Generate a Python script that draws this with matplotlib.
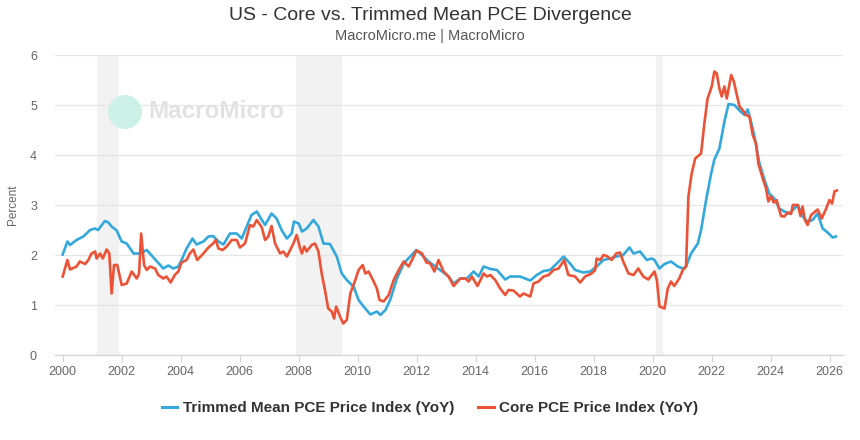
import matplotlib
matplotlib.use("Agg")
import matplotlib.pyplot as plt
from matplotlib.patches import Circle

# ---- data (decimal years, percent) ----
trim_t = [2000.0, 2000.16, 2000.25, 2000.47, 2000.7, 2000.93, 2001.1, 2001.2, 2001.43, 2001.55,
          2001.66, 2001.83, 2002.0, 2002.17, 2002.4, 2002.62, 2002.85, 2003.0, 2003.19, 2003.41,
          2003.58, 2003.75, 2003.92, 2004.03, 2004.2, 2004.4, 2004.54, 2004.77, 2004.94, 2005.1,
          2005.28, 2005.45, 2005.67, 2005.9, 2006.07, 2006.24, 2006.4, 2006.58, 2006.75, 2006.86,
          2007.08, 2007.25, 2007.42, 2007.6, 2007.76, 2007.84, 2008.0, 2008.11, 2008.27, 2008.5,
          2008.67, 2008.84, 2009.06, 2009.29, 2009.46, 2009.63, 2009.8, 2009.86, 2010.03, 2010.2,
          2010.43, 2010.65, 2010.77, 2010.94, 2011.1, 2011.33, 2011.56, 2011.78, 2011.99, 2012.18,
          2012.4, 2012.63, 2012.86, 2013.08, 2013.25, 2013.48, 2013.7, 2013.93, 2014.1, 2014.27,
          2014.5, 2014.72, 2015.0, 2015.17, 2015.5, 2015.85, 2016.07, 2016.3, 2016.52, 2016.75,
          2016.98, 2017.2, 2017.37, 2017.65, 2017.88, 2018.1, 2018.33, 2018.56, 2018.78, 2019.0,
          2019.21, 2019.35, 2019.57, 2019.8, 2019.97, 2020.06, 2020.23, 2020.4, 2020.62, 2020.85,
          2021.02, 2021.13, 2021.3, 2021.53, 2021.64, 2021.81, 2021.98, 2022.09, 2022.26, 2022.43,
          2022.57, 2022.77, 2022.94, 2023.11, 2023.22, 2023.33, 2023.45, 2023.62, 2023.79, 2023.95,
          2024.12, 2024.29, 2024.46, 2024.63, 2024.92, 2025.08, 2025.25, 2025.42, 2025.59, 2025.76,
          2025.93, 2026.1, 2026.21]
trim_v = [2.01, 2.27, 2.2, 2.3, 2.37, 2.5, 2.53, 2.5, 2.68, 2.65,
          2.57, 2.49, 2.27, 2.23, 2.03, 2.03, 2.1, 2.0, 1.87, 1.73,
          1.79, 1.73, 1.77, 1.9, 2.13, 2.33, 2.21, 2.27, 2.37, 2.38,
          2.27, 2.21, 2.43, 2.43, 2.33, 2.57, 2.8, 2.87, 2.7, 2.6,
          2.83, 2.73, 2.5, 2.33, 2.43, 2.67, 2.63, 2.47, 2.53, 2.7,
          2.57, 2.23, 2.22, 1.97, 1.63, 1.5, 1.4, 1.37, 1.1, 0.97,
          0.81, 0.87, 0.8, 0.9, 1.1, 1.53, 1.83, 1.97, 2.1, 2.0,
          1.87, 1.77, 1.67, 1.57, 1.43, 1.53, 1.53, 1.67, 1.57, 1.77,
          1.72, 1.7, 1.51, 1.57, 1.57, 1.49, 1.6, 1.68, 1.7, 1.83,
          1.97, 1.83, 1.7, 1.65, 1.67, 1.77, 1.9, 1.93, 1.97, 2.0,
          2.15, 2.03, 2.07, 1.9, 1.93, 1.9, 1.73, 1.82, 1.87, 1.77,
          1.73, 1.77, 2.03, 2.23, 2.5, 3.1, 3.63, 3.91, 4.13, 4.67,
          5.02, 5.0, 4.89, 4.8, 4.91, 4.67, 4.37, 3.83, 3.5, 3.23,
          3.13, 2.93, 2.87, 2.83, 3.0, 2.77, 2.67, 2.7, 2.83, 2.53,
          2.45, 2.35, 2.37]

core_t = [2000.0, 2000.16, 2000.25, 2000.47, 2000.58, 2000.76, 2000.87, 2000.98, 2001.1, 2001.15,
          2001.27, 2001.36, 2001.49, 2001.58, 2001.66, 2001.74, 2001.85, 2002.0, 2002.17, 2002.34,
          2002.51, 2002.59, 2002.66, 2002.76, 2002.85, 2002.96, 2003.13, 2003.24, 2003.41, 2003.52,
          2003.66, 2003.8, 2003.92, 2004.03, 2004.2, 2004.31, 2004.43, 2004.56, 2004.77, 2004.94,
          2005.1, 2005.19, 2005.28, 2005.42, 2005.56, 2005.73, 2005.9, 2006.01, 2006.18, 2006.35,
          2006.46, 2006.58, 2006.75, 2006.86, 2006.97, 2007.08, 2007.2, 2007.37, 2007.48, 2007.6,
          2007.82, 2007.93, 2008.05, 2008.11, 2008.19, 2008.27, 2008.44, 2008.55, 2008.67, 2008.78,
          2008.89, 2009.0, 2009.12, 2009.2, 2009.27, 2009.4, 2009.51, 2009.63, 2009.75, 2009.92,
          2010.03, 2010.17, 2010.26, 2010.37, 2010.54, 2010.65, 2010.74, 2010.88, 2011.05, 2011.22,
          2011.39, 2011.56, 2011.73, 2011.84, 2011.99, 2012.18, 2012.33, 2012.46, 2012.6, 2012.74,
          2012.91, 2013.08, 2013.25, 2013.48, 2013.65, 2013.76, 2013.87, 2014.06, 2014.27, 2014.38,
          2014.5, 2014.66, 2014.83, 2015.0, 2015.11, 2015.28, 2015.5, 2015.62, 2015.85, 2015.96,
          2016.13, 2016.3, 2016.47, 2016.64, 2016.81, 2017.0, 2017.14, 2017.37, 2017.54, 2017.71,
          2017.93, 2018.05, 2018.1, 2018.22, 2018.33, 2018.44, 2018.61, 2018.76, 2018.89, 2019.0,
          2019.18, 2019.35, 2019.51, 2019.68, 2019.85, 2020.06, 2020.14, 2020.23, 2020.4, 2020.51,
          2020.62, 2020.73, 2020.9, 2021.02, 2021.13, 2021.21, 2021.32, 2021.44, 2021.64, 2021.75,
          2021.86, 2022.0, 2022.09, 2022.17, 2022.26, 2022.34, 2022.43, 2022.51, 2022.66, 2022.75,
          2022.94, 2023.05, 2023.16, 2023.28, 2023.39, 2023.5, 2023.58, 2023.73, 2023.84, 2023.92,
          2024.01, 2024.1, 2024.2, 2024.35, 2024.46, 2024.58, 2024.69, 2024.75, 2024.92, 2025.01,
          2025.08, 2025.16, 2025.25, 2025.37, 2025.59, 2025.73, 2025.88, 2025.99, 2026.08, 2026.16,
          2026.24]
core_v = [1.57, 1.9, 1.71, 1.77, 1.87, 1.82, 1.9, 2.03, 2.07, 1.93,
          2.03, 1.93, 2.11, 2.03, 1.23, 1.8, 1.8, 1.4, 1.43, 1.67,
          1.53, 1.63, 2.43, 1.8, 1.7, 1.77, 1.73, 1.6, 1.53, 1.57,
          1.45, 1.6, 1.67, 1.85, 1.9, 2.03, 2.11, 1.9, 2.03, 2.15,
          2.23, 2.3, 2.13, 2.1, 2.17, 2.3, 2.3, 2.15, 2.23, 2.6,
          2.57, 2.7, 2.55, 2.3, 2.37, 2.58, 2.23, 2.03, 2.07, 1.97,
          2.23, 2.4, 2.13, 2.03, 2.17, 2.07, 2.2, 2.23, 2.07, 1.63,
          1.3, 0.93, 0.87, 0.73, 0.97, 0.77, 0.63, 0.7, 1.23, 1.5,
          1.7, 1.8, 1.63, 1.67, 1.47, 1.33, 1.1, 1.07, 1.2, 1.5,
          1.7, 1.87, 1.77, 1.9, 2.09, 2.03, 1.85, 1.83, 1.67, 1.9,
          1.67, 1.57, 1.38, 1.53, 1.53, 1.47, 1.57, 1.38, 1.63, 1.57,
          1.6, 1.5, 1.33, 1.2, 1.3, 1.29, 1.17, 1.23, 1.17, 1.43,
          1.47, 1.57, 1.6, 1.7, 1.73, 1.9, 1.6, 1.57, 1.45, 1.57,
          1.63, 1.7, 1.93, 1.9, 2.0, 1.98, 1.9, 2.03, 2.05, 1.87,
          1.63, 1.6, 1.73, 1.57, 1.51, 1.67, 1.5, 0.97, 0.93, 1.33,
          1.47, 1.38, 1.53, 1.7, 1.77, 3.17, 3.63, 3.93, 4.03, 4.63,
          5.13, 5.37, 5.67, 5.63, 5.33, 5.17, 5.37, 5.13, 5.6, 5.47,
          4.97, 4.9, 4.8, 4.77, 4.4, 4.23, 3.83, 3.53, 3.33, 3.07,
          3.17, 3.05, 3.1, 2.78, 2.77, 2.85, 2.82, 3.0, 3.0, 2.78,
          2.97, 2.7, 2.6, 2.8, 2.91, 2.73, 2.93, 3.1, 3.03, 3.27,
          3.29]

recessions = [(2001.18, 2001.92), (2007.91, 2009.47), (2020.1, 2020.34)]
x_ticks = list(range(2000, 2027, 2))
y_ticks = [0, 1, 2, 3, 4, 5, 6]

series_names = ["Trimmed Mean PCE Price Index (YoY)", "Core PCE Price Index (YoY)"]
blue = "#33a8dc"
red = "#eb5236"

plt.rcParams['font.family'] = ['Liberation Sans', 'DejaVu Sans']

fig = plt.figure(figsize=(8.6, 4.4), dpi=100)
ax = fig.add_axes([55/860, 85/440, (843-55)/860, (355-55)/440])

for a, b in recessions:
    ax.axvspan(a, b, color="#f2f2f2", lw=0, zorder=0)

ax.plot(trim_t, trim_v, color=blue, lw=1.9, label=series_names[0], zorder=3,
        solid_joinstyle='round')
ax.plot(core_t, core_v, color=red, lw=1.9, label=series_names[1], zorder=4,
        solid_joinstyle='round')

ax.set_xlim(1999.74, 2026.45)
ax.set_ylim(0, 6)
ax.set_xticks(x_ticks)
ax.set_xticklabels([str(x) for x in x_ticks])
ax.set_yticks(y_ticks)
ax.set_yticklabels([str(y) for y in y_ticks])
ax.grid(axis='y', color="#e6e6e6", lw=0.9, zorder=1)
ax.set_axisbelow(True)
for s in ['top', 'right', 'left']:
    ax.spines[s].set_visible(False)
ax.spines['bottom'].set_color("#d6d6d6")
ax.spines['bottom'].set_linewidth(1.0)
ax.tick_params(axis='x', colors="#d6d6d6", length=5, width=0.9, labelcolor="#666666",
               labelsize=9, pad=3)
ax.tick_params(axis='y', length=0, labelcolor="#666666", labelsize=9, pad=13)
ax.set_ylabel("Percent", color="#666666", fontsize=8.5, labelpad=8)

fig.text(0.5, 1 - 15/440, "US - Core vs. Trimmed Mean PCE Divergence", ha='center', va='center',
         fontsize=14, color="#333333")
fig.text(0.5, 1 - 36/440, "MacroMicro.me | MacroMicro", ha='center', va='center',
         fontsize=10.5, color="#555555")

# watermark
fig.patches.append(Circle((1.25, 4.4 - 1.12), 0.17, transform=fig.dpi_scale_trans,
                          facecolor="#cdf1e6", edgecolor='none', zorder=0.5))
fig.text(148/860, 1 - 112/440, "MacroMicro", ha='left', va='center', fontsize=17.5,
         fontweight='bold', color="#e2e2e2", zorder=0.5)

leg = fig.legend(loc='center', bbox_to_anchor=(0.5, 1 - 408/440), ncol=2, frameon=False,
                 fontsize=11, handlelength=1.0, handletextpad=0.35, columnspacing=1.6)
for t in leg.get_texts():
    t.set_color("#333333")
    t.set_fontweight('bold')
for l in leg.get_lines():
    l.set_linewidth(2.2)

fig.savefig("out.png", dpi=100)
